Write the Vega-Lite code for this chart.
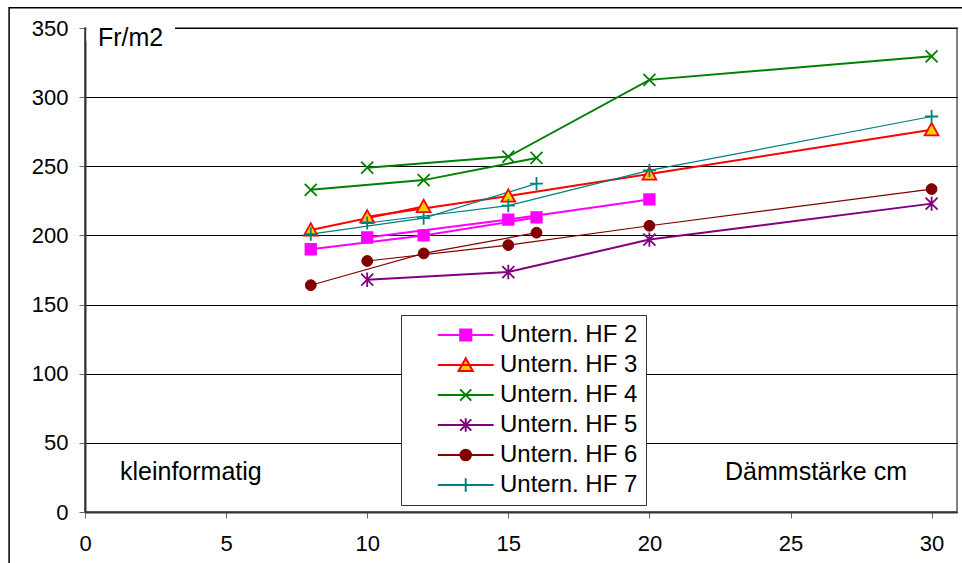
{
  "$schema": "https://vega.github.io/schema/vega-lite/v6.json",
  "width": 872,
  "height": 484,
  "autosize": {"type": "none"},
  "padding": {"left": 85, "top": 28, "right": 5, "bottom": 51},
  "background": "white",
  "config": {
    "view": {"stroke": "#808080", "strokeWidth": 2},
    "font": "Liberation Sans"
  },
  "data": {
    "values": [
      {"s": "Untern. HF 2", "g": "a", "x": 8, "y": 190},
      {"s": "Untern. HF 2", "g": "a", "x": 12, "y": 200},
      {"s": "Untern. HF 2", "g": "a", "x": 16, "y": 213},
      {"s": "Untern. HF 2", "g": "b", "x": 10, "y": 198.5},
      {"s": "Untern. HF 2", "g": "b", "x": 15, "y": 211.5},
      {"s": "Untern. HF 2", "g": "b", "x": 20, "y": 226},
      {"s": "Untern. HF 3", "g": "a", "x": 8, "y": 204},
      {"s": "Untern. HF 3", "g": "a", "x": 12, "y": 221},
      {"s": "Untern. HF 3", "g": "b", "x": 10, "y": 213.5},
      {"s": "Untern. HF 3", "g": "b", "x": 15, "y": 228.5},
      {"s": "Untern. HF 3", "g": "b", "x": 20, "y": 244.5},
      {"s": "Untern. HF 3", "g": "b", "x": 30, "y": 276.5},
      {"s": "Untern. HF 4", "g": "a", "x": 8, "y": 233},
      {"s": "Untern. HF 4", "g": "a", "x": 12, "y": 240},
      {"s": "Untern. HF 4", "g": "a", "x": 16, "y": 256},
      {"s": "Untern. HF 4", "g": "b", "x": 10, "y": 249},
      {"s": "Untern. HF 4", "g": "b", "x": 15, "y": 257},
      {"s": "Untern. HF 4", "g": "b", "x": 20, "y": 312.5},
      {"s": "Untern. HF 4", "g": "b", "x": 30, "y": 329.5},
      {"s": "Untern. HF 5", "g": "b", "x": 10, "y": 168},
      {"s": "Untern. HF 5", "g": "b", "x": 15, "y": 173.5},
      {"s": "Untern. HF 5", "g": "b", "x": 20, "y": 197},
      {"s": "Untern. HF 5", "g": "b", "x": 30, "y": 223},
      {"s": "Untern. HF 6", "g": "a", "x": 8, "y": 164},
      {"s": "Untern. HF 6", "g": "a", "x": 12, "y": 187},
      {"s": "Untern. HF 6", "g": "a", "x": 16, "y": 202},
      {"s": "Untern. HF 6", "g": "b", "x": 10, "y": 181.5},
      {"s": "Untern. HF 6", "g": "b", "x": 15, "y": 193},
      {"s": "Untern. HF 6", "g": "b", "x": 20, "y": 207},
      {"s": "Untern. HF 6", "g": "b", "x": 30, "y": 233.5},
      {"s": "Untern. HF 7", "g": "a", "x": 8, "y": 201},
      {"s": "Untern. HF 7", "g": "a", "x": 12, "y": 212.5},
      {"s": "Untern. HF 7", "g": "a", "x": 16, "y": 237.5},
      {"s": "Untern. HF 7", "g": "b", "x": 10, "y": 209},
      {"s": "Untern. HF 7", "g": "b", "x": 15, "y": 221.5},
      {"s": "Untern. HF 7", "g": "b", "x": 20, "y": 247},
      {"s": "Untern. HF 7", "g": "b", "x": 30, "y": 286}
    ]
  },
  "layer": [
    {
      "data": {"values": [{"k": 1}]},
      "mark": {"type": "text", "align": "left", "baseline": "alphabetic", "fontSize": 25, "font": "Liberation Sans", "color": "black"},
      "encoding": {
        "x": {"datum": 1.24, "type": "quantitative", "scale": {"domain": [0, 30.9], "nice": false, "zero": false}},
        "y": {"datum": 23, "type": "quantitative", "scale": {"domain": [0, 350], "nice": false, "zero": false}},
        "text": {"value": "kleinformatig"}
      }
    },
    {
      "transform": [{"filter": "datum.s !== 'Untern. HF 6' && datum.s !== 'Untern. HF 7'"}],
      "mark": {"type": "line", "clip": false, "strokeWidth": 2},
      "encoding": {
        "x": {
          "field": "x", "type": "quantitative",
          "scale": {"domain": [0, 30.9], "nice": false, "zero": false},
          "axis": {
            "values": [0, 5, 10, 15, 20, 25, 30], "grid": false, "title": null,
            "domainColor": "#333333", "domainWidth": 2, "tickColor": "#666666", "tickSize": 6, "tickWidth": 1,
            "labelFontSize": 22, "labelColor": "black", "labelPadding": 15, "labelFont": "Liberation Sans", "labelFlush": false
          }
        },
        "y": {
          "field": "y", "type": "quantitative",
          "scale": {"domain": [0, 350], "nice": false, "zero": false},
          "axis": {
            "values": [0, 50, 100, 150, 200, 250, 300, 350], "grid": true, "title": null, "gridColor": "black",
            "domainColor": "#333333", "domainWidth": 2, "tickColor": "#666666", "tickSize": 6, "tickWidth": 1,
            "labelFontSize": 22, "labelColor": "black", "labelPadding": 11, "labelFont": "Liberation Sans", "labelFlush": false
          }
        },
        "color": {
          "field": "s", "type": "nominal",
          "scale": {
            "domain": ["Untern. HF 2", "Untern. HF 3", "Untern. HF 4", "Untern. HF 5", "Untern. HF 6", "Untern. HF 7"],
            "range": ["#FF00FF", "#FF0000", "#008000", "#800080", "#800000", "#008080"]
          },
          "legend": {
            "orient": "none", "legendX": 316, "legendY": 287, "title": null,
            "strokeColor": "#333333", "fillColor": "white", "padding": 8,
            "labelFontSize": 24, "labelFont": "Liberation Sans", "labelColor": "black", "labelLimit": 300,
            "symbolType": "M-1,0H8", "symbolSize": 154, "symbolOffset": 23, "labelOffset": 44, "rowPadding": 6,
            "symbolStrokeWidth": 2
          }
        },
        "detail": {"field": "g", "type": "nominal"}
      }
    },
    {
      "transform": [{"filter": "datum.s === 'Untern. HF 6' || datum.s === 'Untern. HF 7'"}],
      "mark": {"type": "line", "clip": false, "strokeWidth": 1.2},
      "encoding": {
        "x": {"field": "x", "type": "quantitative"},
        "y": {"field": "y", "type": "quantitative"},
        "color": {"field": "s", "type": "nominal"},
        "detail": {"field": "g", "type": "nominal"}
      }
    },
    {
      "transform": [{"filter": "false"}],
      "mark": {"type": "point", "filled": true, "size": 144, "strokeWidth": 1.8, "opacity": 1, "clip": false},
      "encoding": {
        "x": {"field": "x", "type": "quantitative"},
        "y": {"field": "y", "type": "quantitative"},
        "shape": {
          "field": "s", "type": "nominal", "legend": null,
          "scale": {
            "domain": ["Untern. HF 2", "Untern. HF 3", "Untern. HF 4", "Untern. HF 5", "Untern. HF 6", "Untern. HF 7"],
            "range": [
              "M-1,0H8M2.6,-0.9H4.4V0.9H2.6Z",
              "M-1,0H8M3.5,-1.1L4.65,0.95H2.35Z",
              "M-1,0H8M2.6,-0.9L4.4,0.9M2.6,0.9L4.4,-0.9",
              "M-1,0H8M2.6,-0.9L4.4,0.9M2.6,0.9L4.4,-0.9M3.5,-1.1V1.1",
              "M-1,0H8M4.35,0A0.85,0.85,0,1,1,2.65,0A0.85,0.85,0,1,1,4.35,0Z",
              "M-1,0H8M3.5,-1.1V1.1"
            ]
          }
        },
        "fill": {
          "field": "s", "type": "nominal", "legend": null,
          "scale": {
            "domain": ["Untern. HF 2", "Untern. HF 3", "Untern. HF 4", "Untern. HF 5", "Untern. HF 6", "Untern. HF 7"],
            "range": ["#FF00FF", "#FFCC00", "#008000", "#800080", "#800000", "#008080"]
          }
        },
        "stroke": {
          "field": "s", "type": "nominal", "legend": null,
          "scale": {
            "domain": ["Untern. HF 2", "Untern. HF 3", "Untern. HF 4", "Untern. HF 5", "Untern. HF 6", "Untern. HF 7"],
            "range": ["#FF00FF", "#FF0000", "#008000", "#800080", "#800000", "#008080"]
          }
        }
      }
    },
    {
      "transform": [{"filter": "datum.s === 'Untern. HF 2'"}],
      "mark": {"type": "point", "shape": "M-0.9,-0.9H0.9V0.9H-0.9Z", "filled": true, "size": 144, "strokeWidth": 1.5, "fill": "#FF00FF", "stroke": "#FF00FF", "opacity": 1, "clip": false},
      "encoding": {"x": {"field": "x", "type": "quantitative"}, "y": {"field": "y", "type": "quantitative"}}
    },
    {
      "transform": [{"filter": "datum.s === 'Untern. HF 3'"}],
      "mark": {"type": "point", "shape": "M0,-1.1L1.15,0.95H-1.15Z", "filled": true, "size": 144, "strokeWidth": 1.8, "fill": "#FFCC00", "stroke": "#FF0000", "opacity": 1, "clip": false},
      "encoding": {"x": {"field": "x", "type": "quantitative"}, "y": {"field": "y", "type": "quantitative"}}
    },
    {
      "transform": [{"filter": "datum.s === 'Untern. HF 4'"}],
      "mark": {"type": "point", "shape": "M-1,-1L1,1M-1,1L1,-1", "filled": false, "size": 144, "strokeWidth": 1.8, "stroke": "#008000", "opacity": 1, "clip": false},
      "encoding": {"x": {"field": "x", "type": "quantitative"}, "y": {"field": "y", "type": "quantitative"}}
    },
    {
      "transform": [{"filter": "datum.s === 'Untern. HF 5'"}],
      "mark": {"type": "point", "shape": "M-1,-1L1,1M-1,1L1,-1M0,-1.2V1.2", "filled": false, "size": 144, "strokeWidth": 1.8, "stroke": "#800080", "opacity": 1, "clip": false},
      "encoding": {"x": {"field": "x", "type": "quantitative"}, "y": {"field": "y", "type": "quantitative"}}
    },
    {
      "transform": [{"filter": "datum.s === 'Untern. HF 6'"}],
      "mark": {"type": "point", "shape": "M0.9,0A0.9,0.9,0,1,1,-0.9,0A0.9,0.9,0,1,1,0.9,0Z", "filled": true, "size": 144, "strokeWidth": 1, "fill": "#800000", "stroke": "#800000", "opacity": 1, "clip": false},
      "encoding": {"x": {"field": "x", "type": "quantitative"}, "y": {"field": "y", "type": "quantitative"}}
    },
    {
      "transform": [{"filter": "datum.s === 'Untern. HF 7'"}],
      "mark": {"type": "point", "shape": "M-1.1,0H1.1M0,-1.1V1.1", "filled": false, "size": 144, "strokeWidth": 1.8, "stroke": "#008080", "opacity": 1, "clip": false},
      "encoding": {"x": {"field": "x", "type": "quantitative"}, "y": {"field": "y", "type": "quantitative"}}
    },
    {
      "data": {"values": [{"k": 1}]},
      "mark": {"type": "rect", "fill": "white", "clip": false},
      "encoding": {
        "x": {"datum": 0.05, "type": "quantitative"},
        "x2": {"datum": 3.19},
        "y": {"datum": 340, "type": "quantitative"},
        "y2": {"datum": 354}
      }
    },
    {
      "data": {"values": [{"k": 1}]},
      "mark": {"type": "rect", "fillOpacity": 0, "stroke": "black", "strokeWidth": 1.5, "clip": false},
      "encoding": {
        "x": {"datum": -2.69, "type": "quantitative"},
        "x2": {"datum": 33},
        "y": {"datum": 364.7, "type": "quantitative"},
        "y2": {"datum": -60}
      }
    },
    {
      "data": {"values": [{"k": 1}]},
      "mark": {"type": "text", "align": "left", "baseline": "alphabetic", "fontSize": 25, "font": "Liberation Sans", "color": "black"},
      "encoding": {
        "x": {"datum": 0.46, "type": "quantitative"},
        "y": {"datum": 336.7, "type": "quantitative"},
        "text": {"value": "Fr/m2"}
      }
    },
    {
      "data": {"values": [{"k": 1}]},
      "mark": {"type": "text", "align": "left", "baseline": "alphabetic", "fontSize": 25, "font": "Liberation Sans", "color": "black"},
      "encoding": {
        "x": {"datum": 22.68, "type": "quantitative"},
        "y": {"datum": 23, "type": "quantitative"},
        "text": {"value": "Dämmstärke cm"}
      }
    }
  ]
}
